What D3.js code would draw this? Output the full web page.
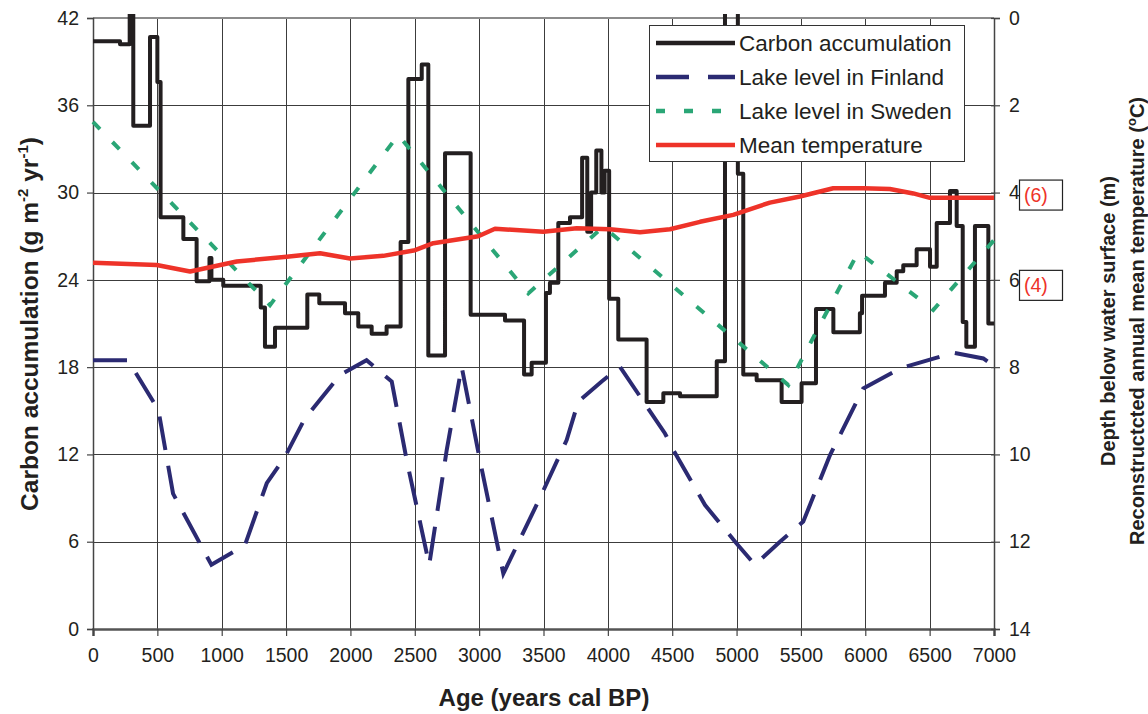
<!DOCTYPE html>
<html><head><meta charset="utf-8">
<script src="https://cdn.jsdelivr.net/npm/d3@7"></script>
<style>
body{margin:0;background:#fff;}
svg{font-family:"Liberation Sans",Arial,sans-serif;}
</style></head>
<body><svg id="c" width="1148" height="714"></svg>
<script>
// ---- data ----
const xTicks = [0,500,1000,1500,2000,2500,3000,3500,4000,4500,5000,5500,6000,6500,7000];
const leftTicks = [0,6,12,18,24,30,36,42];
const rightTicks = [0,2,4,6,8,10,12,14];

const carbonAges = [0,210,285,313,443,500,525,702,805,905,920,1012,1303,1336,1414,1665,1758,1958,2061,2165,2281,2390,2450,2554,2605,2735,2934,3201,3349,3408,3519,3550,3615,3706,3800,3840,3870,3910,3950,3975,4010,4081,4301,4431,4561,4846,4910,5010,5052,5156,5350,5505,5617,5752,5958,5975,6153,6244,6295,6399,6503,6555,6658,6710,6757,6785,6852,6956,7000];
const carbonValues = [40.4,40.2,44,34.6,40.7,37.6,28.3,26.8,23.9,25.5,24.0,23.6,22.1,19.4,20.7,23.0,22.4,21.7,20.8,20.3,20.8,26.6,37.8,38.8,18.8,32.7,21.6,21.2,17.5,18.3,23.1,23.8,27.9,28.3,32.4,27.3,30.0,32.9,30.0,31.5,22.7,19.9,15.6,16.2,16.0,18.4,44,31.3,17.5,17.1,15.6,16.9,22.0,20.4,21.7,22.9,23.8,24.6,25.0,26.1,24.9,27.9,30.1,27.7,21.1,19.4,27.7,21.0,21.0];

const finlandAges = [0,272,508,622,920,1180,1350,1492,1647,1920,2125,2321,2437,2612,2748,2864,3006,3188,3472,3680,3770,3952,4094,4444,4509,4755,5000,5143,5337,5518,5727,5984,6270,6684,6917,7000];
const finlandDepth = [7.84,7.84,8.98,10.9,12.53,12.08,10.66,10.05,9.17,8.18,7.84,8.33,10.13,12.53,9.9,7.99,10.13,12.73,11.0,9.67,8.79,8.33,7.99,9.52,9.9,11.16,12.04,12.53,12.0,11.54,10.01,8.49,8.03,7.67,7.8,7.97];

const swedenAges = [0,1375,2372,3382,3965,5402,5946,6528,7000];
const swedenDepth = [2.38,6.58,2.68,6.31,4.78,8.41,5.36,6.69,5.09];

const tempAges = [0,495,754,1116,1505,1764,1997,2255,2502,2644,2993,3123,3498,3758,4017,4250,4483,4716,4974,5259,5492,5751,5984,6191,6373,6502,7000];
const tempValues = [4.39,4.34,4.19,4.42,4.53,4.61,4.49,4.55,4.68,4.84,5.0,5.17,5.10,5.18,5.16,5.09,5.16,5.33,5.49,5.77,5.91,6.10,6.10,6.08,5.98,5.88,5.88];

const legendLabels = ["Carbon accumulation","Lake level in Finland","Lake level in Sweden","Mean temperature"];
const tempBoxLabels = ["(6)","(4)"];
const tempBoxDepths = [4,6];

// ---- layout ----
const svg = d3.select("#c");
const L = 93, R = 994, T = 18, B = 629;
const x = d3.scaleLinear().domain([0,7000]).range([L,R]);
const yL = d3.scaleLinear().domain([0,42]).range([B,T]);
const yR = d3.scaleLinear().domain([0,14]).range([T,B]);
const yT = d3.scaleLinear().domain([10,-4]).range([T,B]); // temperature placed so that depth = 10 - T

const txt = "#231f20";
const grid = "#3c3c3c";

// gridlines
const g = svg.append("g");
g.selectAll(".hv").data(xTicks.slice(1,-1)).join("line")
  .attr("x1",d=>Math.round(x(d))+0.5).attr("x2",d=>Math.round(x(d))+0.5)
  .attr("y1",T).attr("y2",B).attr("stroke",grid).attr("stroke-width",1);
g.selectAll(".hh").data(leftTicks.slice(0,-1)).join("line")
  .attr("x1",L).attr("x2",R)
  .attr("y1",d=>Math.round(yL(d))+0.5).attr("y2",d=>Math.round(yL(d))+0.5)
  .attr("stroke",grid).attr("stroke-width",1);
// top border
svg.append("line").attr("x1",L).attr("x2",R).attr("y1",T).attr("y2",T).attr("stroke","#8c8c8c").attr("stroke-width",2);

// axes
const ax = svg.append("g").attr("transform",`translate(0,${B})`)
  .call(d3.axisBottom(x).tickValues(xTicks).tickSize(7).tickPadding(12).tickFormat(d3.format("d")));
const ay = svg.append("g").attr("transform",`translate(${L},0)`)
  .call(d3.axisLeft(yL).tickValues(leftTicks).tickSize(6).tickPadding(8));
const ar = svg.append("g").attr("transform",`translate(${R},0)`)
  .call(d3.axisRight(yR).tickValues(rightTicks).tickSize(6).tickPadding(9));
ar.selectAll(".tick line").attr("x1",-3);
[ax,ay,ar].forEach(a=>{
  a.select(".domain").attr("stroke","#444").attr("stroke-width",1.5);
  a.selectAll(".tick line").attr("stroke","#444").attr("stroke-width",1.2);
  a.selectAll(".tick text").attr("fill",txt).attr("font-size",19.5).attr("font-family",'"Liberation Sans",Arial,sans-serif');
});
ax.select(".domain").attr("stroke","#555").attr("stroke-width",2.5);
ax.selectAll(".tick text").attr("dy","0.71em");

// clip
svg.append("clipPath").attr("id","clip").append("rect").attr("x",L-5).attr("y",14).attr("width",R-L+10).attr("height",B-10);
const plot = svg.append("g").attr("clip-path","url(#clip)");

// carbon step line
const carbon = carbonAges.map((a,i)=>[a,carbonValues[i]]);
plot.append("path").datum(carbon)
  .attr("d",d3.line().x(d=>x(d[0])).y(d=>yL(d[1])).curve(d3.curveStepAfter))
  .attr("fill","none").attr("stroke","#231f20").attr("stroke-width",4).attr("stroke-linejoin","round");

// Finland
const fin = finlandAges.map((a,i)=>[a,finlandDepth[i]]);
plot.append("path").datum(fin)
  .attr("d",d3.line().x(d=>x(d[0])).y(d=>yR(d[1])))
  .attr("fill","none").attr("stroke","#2b2a72").attr("stroke-width",4).attr("stroke-dasharray","34,16");

// Sweden
const swe = swedenAges.map((a,i)=>[a,swedenDepth[i]]);
plot.append("path").datum(swe)
  .attr("d",d3.line().x(d=>x(d[0])).y(d=>yR(d[1])))
  .attr("fill","none").attr("stroke","#2aa676").attr("stroke-width",4).attr("stroke-dasharray","10,18");

// Temperature
const tmp = tempAges.map((a,i)=>[a,tempValues[i]]);
plot.append("path").datum(tmp)
  .attr("d",d3.line().x(d=>x(d[0])).y(d=>yT(d[1])))
  .attr("fill","none").attr("stroke","#ee3329").attr("stroke-width",4.5).attr("stroke-linejoin","round");

// legend
const lg = svg.append("g");
lg.append("rect").attr("x",649.5).attr("y",25.5).attr("width",315).attr("height",136)
  .attr("fill","#fff").attr("stroke","#333").attr("stroke-width",1);
const lgStyles = [
  {c:"#231f20",dash:null},
  {c:"#2b2a72",dash:"33,19"},
  {c:"#2aa676",dash:"9,19"},
  {c:"#ee3329",dash:null}
];
legendLabels.forEach((lab,i)=>{
  const yy = 43 + i*34;
  lg.append("line").attr("x1",656).attr("x2",735).attr("y1",yy).attr("y2",yy)
    .attr("stroke",lgStyles[i].c).attr("stroke-width",4.5)
    .attr("stroke-dasharray",lgStyles[i].dash);
  lg.append("text").attr("x",739).attr("y",yy+7.8).attr("font-size",22.5).attr("fill",txt).text(lab);
});

// temperature boxes
tempBoxLabels.forEach((lab,i)=>{
  const yy = yR(tempBoxDepths[i]);
  const y0 = i===0 ? yy-12.5 : yy-9.5;
  svg.append("rect").attr("x",1019.5).attr("y",y0).attr("width",43).attr("height",30)
    .attr("fill","none").attr("stroke","#222").attr("stroke-width",1.2);
  svg.append("text").attr("x",1024).attr("y",y0+22).attr("font-size",19.5).attr("fill","#ee3329").text(lab);
});

// axis titles
svg.append("text").attr("x",544).attr("y",706).attr("text-anchor","middle")
  .attr("font-size",24).attr("font-weight","bold").attr("fill",txt).text("Age (years cal BP)");

const lt = svg.append("text").attr("transform","translate(38,324) rotate(-90)")
  .attr("text-anchor","middle").attr("font-size",24.5).attr("font-weight","bold").attr("fill",txt);
lt.append("tspan").text("Carbon accumulation (g m");
lt.append("tspan").attr("font-size",15).attr("dy",-10).text("-2");
lt.append("tspan").attr("dy",10).text(" yr");
lt.append("tspan").attr("font-size",15).attr("dy",-10).text("-1");
lt.append("tspan").attr("dy",10).text(")");

svg.append("text").attr("transform","translate(1115,321) rotate(-90)")
  .attr("text-anchor","middle").attr("font-size",20).attr("font-weight","bold").attr("fill",txt)
  .text("Depth below water surface (m)");
const rt = svg.append("text").attr("transform","translate(1144,321) rotate(-90)")
  .attr("text-anchor","middle").attr("font-size",20).attr("font-weight","bold").attr("fill",txt);
rt.append("tspan").text("Reconstructcted annual mean temperature (");
rt.append("tspan").attr("font-size",13).attr("dy",-8).text("o");
rt.append("tspan").attr("dy",8).text("C)");
</script></body></html>
